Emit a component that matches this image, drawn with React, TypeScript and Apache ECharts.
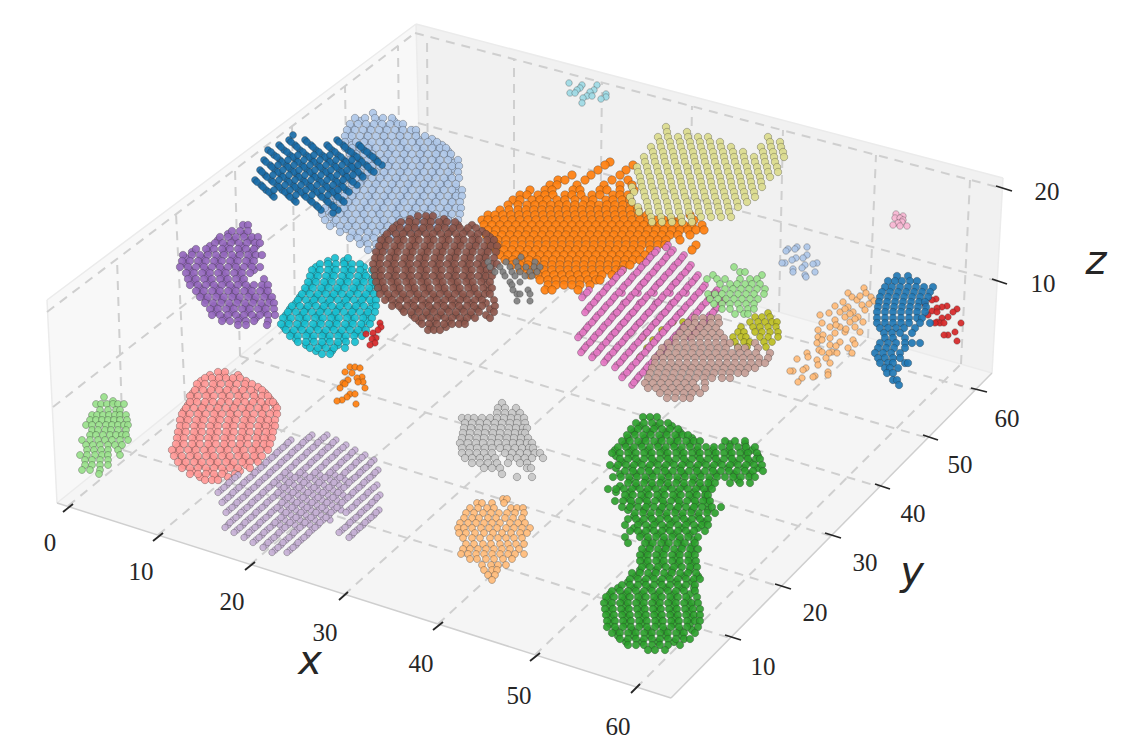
import React, { useEffect, useRef } from "react";
import * as echarts from "echarts";

// Each row is [screenY, screenX, screenX, ...] on the projected plane of the 3D view.
const lightCyan = [[83,569],[85,582,597],[88,580],[90,577,594],[92,590],[93,570,575],[94,606],[96,587,592],[97,606],[98,583],[99,601],[103,582]];
const lightPink = [[214,896],[216,903],[218,895,900],[220,903],[222,902],[223,898],[225,893],[226,900,907]];
const lightBlueSmall = [[247,797,807],[249,788,795],[251,786],[255,807],[258,803,796],[260,792],[263,785,782,817],[264,813],[265,805],[268,802],[269,793],[272,815,793],[275,805],[277,806]];
const lightBlue = [
[113,373],[118,355,365,375,383,392],[124,350,358,366,374,382,390,398,403],[130,347,355,363,371,379,387,395,403,411,416],
[136,345,352,360,368,376,384,392,400,408,416,425],[142,345,356,364,372,380,388,396,404,412,420,428,437],
[148,345,352,360,368,376,384,392,400,408,416,424,432,440,446],[154,350,356,364,372,380,388,396,404,412,420,428,436,444,451],
[160,350,360,368,376,384,392,400,408,416,424,432,440,448,458],[166,352,364,372,380,388,396,404,412,420,428,436,444,452,459],
[172,350,360,368,376,384,392,400,408,416,424,432,440,448,458],[178,345,356,364,372,380,388,396,404,412,420,428,436,444,452,459],
[184,340,352,360,368,376,384,392,400,408,416,424,432,440,448,456],[190,335,348,356,364,372,380,388,396,404,412,420,428,436,444,452,462],
[196,335,344,352,360,368,376,384,392,400,408,416,424,432,440,448,456,462],[202,330,340,348,356,364,372,380,388,396,404,412,420,428,436,444,452,460],
[208,325,336,344,352,360,368,376,384,392,400,408,416,424,432,440,448,456,461],[214,322,332,340,348,356,364,372,380,388,396,404,412,420,428,436,444,452,460],
[220,325,336,344,352,360,368,376,384,392,400,408,416,424,432,440,448,458],[226,330,340,348,356,364,372,380,388,396,404,412,420,428,436,444,455],
[232,340,352,360,368,376,384,392,400,408,416,424,450],[238,350,358,366,374,382,390,398],[244,360,368,376,384],[250,368,376,384]
];
const lightBlueFill = [[121,360,378,394],[127,352,370,386,402],[133,350,368,384,400,416],[139,350,366,384,400,418,432],[145,352,370,386,402,418,434,442],[151,356,372,390,406,422,438,448],[157,354,370,386,404,420,436,450],[163,356,372,390,406,422,438,454],[169,354,372,388,404,420,436,452],[175,350,368,384,400,418,434,450],[181,344,362,378,396,412,428,446],[187,340,358,374,392,408,424,442,456],[193,338,356,372,388,406,422,438,456],[199,336,352,370,386,402,420,436,452],[205,330,348,366,382,398,416,432,450],[211,328,346,362,378,396,412,428,446],[217,330,346,364,380,398,414,430,448],[223,334,352,368,384,402,418,434,450],[229,346,364,380,396,414],[235,354,372,390],[241,364,380]];
const darkBlue = [
[135,293],[140,289,305,337],[145,279,295,311,327,343,359],[150,268,284,300,316,332,348,364],[155,274,290,306,322,338,354,370],
[160,264,280,296,312,328,344,360,376],[165,270,286,302,318,334,350,366,382],[170,260,275,291,307,323,339,355,371],
[175,265,281,297,313,329,345,361],[180,255,271,287,303,319,335,351],[185,261,277,293,309,325,341,357],
[190,266,282,298,314,330,346],[195,272,288,304,320,336],[200,294,310,326,342],[205,316,332],[210,321,338],[213,333],
[142,291,307,339],[147,281,297,313,329,345,361],[152,271,287,303,319,335,351,367],[157,277,293,309,325,341,357,373],[162,266,282,298,314,330,346,362,378],
[167,272,288,304,320,336,352,368],[172,262,278,294,310,326,342,358,374],[177,267,283,299,315,331,347,363],[182,257,273,289,305,321,337,353],[187,263,279,295,311,327,343],[192,269,285,301,317,333,349],[197,274,290,306,322,338],[202,296,312,328,344],[207,318,334],
[155,298,314,330],[160,288,304,320,336,352],[165,278,294,310,326,342,358],[170,283,299,315,331,347],[175,273,289,305,321,337,353],[180,279,295,311,327,343],[185,285,301,317,333],[190,274,290,306,322,338],[195,296,312,328]
];
const purple = [
[225,243,248],[231,232,240,248],[237,220,228,236,244,252,258],[243,215,223,231,239,247,255,260],[249,196,206,214,222,230,238,246,254],
[255,183,192,200,208,216,224,232,240,248,256,262],[261,182,190,198,206,214,222,230,238,246,254],[267,180,188,196,204,212,220,228,236,244,252,260],
[273,186,194,202,210,218,226,234,242,250],[279,188,196,204,212,220,228,236,244,264],[285,190,198,206,214,222,230,238,246,254,262,268],
[291,196,204,212,220,228,236,244,252,260,268],[297,200,208,216,224,232,240,248,256,264,272],[303,205,213,221,229,237,245,253,261,269,274],
[309,210,218,226,234,242,250,258,266,274],[315,212,220,228,236,244,252,260,268,275],[321,222,230,238,246,254,268],[325,238,246,267]
];
const purpleFill = [[234,228,244],[240,218,234,250],[246,210,226,242,256],[252,192,208,224,240,252],[258,186,202,218,234,250],[264,186,202,218,234,250],[270,190,206,222,238,254],[276,192,208,224,240],[282,194,210,226,242],[288,200,216,232,248,264],[294,202,218,234,250,266],[300,206,222,238,254,270],[306,214,230,246,262],[312,216,232,248,264],[318,224,240,256]];
const cyan = [
[258,335,348],[264,320,328,336,344,352,360],[270,312,320,328,336,344,352,360,372],[276,310,318,326,334,342,350,358,366,375],
[282,308,316,324,332,340,348,356,364,372,378],[288,305,313,321,329,337,345,353,361,369,378],[294,302,310,318,326,334,342,350,358,366,374],
[300,298,306,314,322,330,338,346,354,362,370,376],[306,292,300,308,316,324,332,340,348,356,364,376],[312,288,296,304,312,320,328,336,344,352,360,368,375],
[318,283,291,299,307,315,323,331,339,347,355,363,372],[324,281,289,297,305,313,321,329,337,345,353,361,370],[330,286,294,302,310,318,326,334,342,350,358,366],
[336,290,298,306,314,322,330,338,346,354,362],[342,298,306,314,322,330,338,346,355],[348,310,318,326,334,345],[354,322,330]
];
const cyanFill = [[261,328,344],[267,316,332,348,364],[273,316,332,348,364],[279,314,330,346,362,372],[285,310,326,342,358,374],[291,306,322,338,354,370],[297,300,316,332,348,364],[303,296,312,328,344,360,372],[309,290,306,322,338,354,370],[315,286,302,318,334,350,366],[321,288,304,320,336,352,366],[327,284,300,316,332,348,362],[333,292,308,324,340,356],[339,296,312,328,344],[345,306,322,338],[351,316,332]];
const orange = [
[162,610],[165,605,633],[170,598,626],[175,572,591,620],[180,558,565,585,612,628],[185,550,557,577,604,620,632],
[190,530,545,552,573,580,600,607,620,634],[195,520,527,538,545,553,565,572,581,592,600,613,620,628],[200,513,520,532,540,547,557,565,575,585,593,606,613,622,630],
[205,508,518,527,535,543,551,559,567,575,583,591,599,607,615,623,631],[210,500,509,518,526,534,542,550,558,566,574,582,590,598,606,614,622,630,638],
[215,488,495,503,511,519,527,535,543,551,559,567,575,583,591,599,607,615,623,631,639,647,690],[220,482,488,496,504,512,520,528,536,544,552,560,568,576,584,592,600,608,616,624,632,640,648,656,664,672,680,694],
[225,484,492,500,508,516,524,532,540,548,556,564,572,580,588,596,604,612,620,628,636,644,652,660,668,676,684,692,702],
[230,488,496,504,512,520,528,536,544,552,560,568,576,584,592,600,608,616,624,632,640,648,656,664,672,680,688,696,704],
[235,486,494,502,510,518,526,534,542,550,558,566,574,582,590,598,606,614,622,630,638,646,654,662,670,678,690],
[240,490,498,506,514,522,530,538,546,554,562,570,578,586,594,602,610,618,626,634,642,650,658,666,680],
[245,490,498,506,514,522,530,538,546,554,562,570,578,586,594,602,610,618,626,634,642,650,658,665,696],
[250,496,504,512,520,528,536,544,552,560,568,576,584,592,600,608,616,624,632,640,650,692],
[255,500,508,516,524,532,540,548,556,564,572,580,588,596,604,612,620,628,636,645],
[260,505,513,521,529,537,545,553,561,569,577,585,593,601,609,617,625,633,640],
[265,512,520,528,536,544,552,560,568,576,584,592,600,608,616,624,630],
[270,520,528,536,544,552,560,568,576,584,592,600,608,616,622],[275,530,538,546,554,562,570,578,586,594,602,612],
[280,540,548,556,564,572,580,588,596,600],[285,548,556,564,572,580,590],[290,545,552,578]
];
const lightOlive = [
[127,666],[132,667,687],[137,658,668,678,688,698,708,768],[142,660,670,680,690,700,710,720,770,780],
[147,651,661,671,681,691,701,711,721,731,761,771,781],[152,653,663,673,683,693,703,713,723,733,743,763,773,783],
[157,644,654,664,674,684,694,704,714,724,734,744,754,764,774,784],[162,645,655,665,675,685,695,705,715,725,735,745,755,765,775],
[167,637,647,657,667,677,687,697,707,717,727,737,747,757,767,777],[172,638,648,658,668,678,688,698,708,718,728,738,748,758,768,778],
[177,640,650,660,670,680,690,700,710,720,730,740,750,760,770],[182,641,651,661,671,681,691,701,711,721,731,741,751,761],
[187,632,642,652,662,672,682,692,702,712,722,732,742,752,762],[192,634,644,654,664,674,684,694,704,714,724,734,744,754],
[197,630,645,655,665,675,685,695,705,715,725,735,745,755],[202,632,647,657,667,677,687,697,707,717,727,737,747],
[207,638,648,658,668,678,688,698,708,718,728,738],[212,639,649,659,669,679,689,699,709,719,729],
[217,651,661,671,681,691,701,711,721,731],[222,652,662,672,682,692]
];
const olive = [
[313,768],[317,755,762,770],[322,750,758,765,772,777,683,673],[327,741,753,760,768,776],[330,662],[332,738,744,755,762,770,778],
[337,733,741,746,760,768,778,643],[340,653],[342,735,744,750,764,772],[347,738,747,766],[348,647],[357,640]
];
const magenta = [
[283,643,659,675],[293,622,638,654,670,686],[303,624,640,656,672],[313,616,632,648,664,680],[323,623,639,655,671],[333,614,630,646],
[245,668],[250,657,673],[255,652,668,684],[260,648,664,680],[265,643,659,675,691],[270,623,639,655,671,687],
[275,618,634,650,666,682,698],[280,614,630,646,662,678,694],[285,609,625,641,657,673,689,705],[290,589,605,621,637,653,669,685,701,717],
[295,584,600,616,632,648,664,680,696,712],[300,596,612,628,644,660,676,692,708,724],[305,591,607,623,639,655,671,687,703,719],
[310,587,603,619,635,651,667,683,699,715],[315,598,614,630,646,662,678,694,710],[320,594,610,626,642,658,674,690,706],
[325,589,605,621,637,653,669,685,701],[330,585,601,617,633,649,665,681,697],[335,580,596,612,628,644,660,676,692],
[340,592,608,624,640,656,672],[345,587,603,619,635,651,667],[350,583,599,615,631,647,663],[355,594,610,626,642,658],
[360,606,622,638,654],[365,617,633,649],[370,629,645],[375,624,640],[380,636],[385,632],
[247.5,666],[252.5,655,671],[257.5,650,666,682],[262.5,646,662,678],[267.5,641,657,673,689],[272.5,621,637,653,669,685],[277.5,616,632,648,664,680,696],[282.5,612,628,644,660,676,692],[287.5,607,623,639,655,671,687,703],[292.5,587,603,619,635,651,667,683,699,715],[297.5,582,598,614,630,646,662,678,694,710],[302.5,594,610,626,642,658,674,690,706,722],[307.5,589,605,621,637,653,669,685,701,717],[312.5,585,601,617,633,649,665,681,697,713],[317.5,596,612,628,644,660,676,692,708],[322.5,592,608,624,640,656,672,688,704],[327.5,587,603,619,635,651,667,683,699],[332.5,583,599,615,631,647,663,679,695],[337.5,578,594,610,626,642,658,674,690],[342.5,590,606,622,638,654,670],[347.5,585,601,617,633,649,665],[352.5,581,597,613,629,645,661],[357.5,592,608,624,640,656],[362.5,604,620,636,652],[367.5,615,631,647],[372.5,627,643],[377.5,622,638],[382.5,634]
];
const lightGreenMid = [[267,734],[272,740,745],[275,713,762],[279,707,717,725,740,750,757],[284,720,730,737,745,752,760],[289,725,733,741,749,757,765],[294,708,715,722,730,738,746,754,764],[299,710,718,726,734,742,750,758],[304,714,722,730,738,746,754],[309,722,730,740,748,754],[314,735,744,748]];
const lightBrown = [
[318,695,703,711,718],[323,688,695,703,711,719],[328,684,692,700,708,716],[333,680,688,696,704,712,720],[338,676,684,692,700,708,716,724],
[343,668,676,684,692,700,708,716,724,730,755],[348,662,670,678,686,694,702,710,718,726,738,745,758],[353,660,668,676,684,692,700,708,716,724,732,740,748,756,770],
[358,655,663,671,679,687,695,703,711,719,727,735,743,751,759,768],[363,655,663,671,679,687,695,703,711,719,727,735,743,751,759,765],
[368,652,660,668,676,684,692,700,708,716,724,732,740,748,755],[373,650,658,666,674,682,690,698,706,714,722,730,738,745],
[378,648,656,664,672,680,688,696,704,712,722,730],[383,645,653,661,669,677,685,693,705],[388,648,656,664,672,680,688,696,705],[393,660,668,676,684,692,700],[398,667,675,683,690]
];
const brown = [
[216,418,426,433],[222,401,409,416,424,431,439,447,455],[228,393,400,408,415,423,430,438,445,453,460,468,476],
[234,387,396,403,411,418,426,433,441,448,456,463,471,478,486],[240,381,389,397,404,412,419,427,434,442,449,457,464,472,479,487,494],
[246,379,386,394,401,409,416,424,431,439,446,454,461,469,476,484,491,497],[252,376,383,391,398,406,413,421,428,436,443,451,458,466,473,481,488,496],
[258,375,381,389,396,404,411,419,426,434,441,449,456,464,471,479,486,494],[264,373,380,387,395,402,410,417,425,432,440,447,455,462,470,477,485,492,497],
[270,374,382,390,397,405,412,420,427,435,442,450,457,465,472,480,487,492],[276,375,381,388,396,403,411,418,426,433,441,448,456,463,471,478,486,492],
[282,376,383,391,398,406,413,421,428,436,443,451,458,466,473,481,490],[288,378,385,393,400,408,415,423,430,438,445,453,460,468,475,483,492],
[294,380,388,395,403,410,418,425,433,440,448,455,463,470,478,485,490],[300,385,392,400,407,415,422,430,437,445,452,460,467,475,482,494],
[306,392,399,407,414,422,429,437,444,452,459,467,474,482,495],[312,404,411,419,426,434,441,449,456,464,471,479,494],
[318,415,422,430,437,445,452,460,467,475,490],[324,422,429,437,444,452,459,465],[330,428,434,440]
];
const brownFill = [[219,410,428,444],[225,397,412,428,442,458,472],[231,391,406,421,437,451,466,482],[237,385,401,415,430,446,459,475,490],[243,384,399,414,430,445,460,476,492],[249,381,396,411,427,442,457,472,488],[255,379,394,410,424,440,455,470,485],[261,378,393,407,423,438,452,468,483],[267,378,392,408,422,437,453,467,482],[273,379,394,408,424,438,454,469,484],[279,379,393,409,423,439,453,468,484],[285,381,396,411,426,441,456,471,487],[291,384,398,414,428,444,458,474,488],[297,389,403,418,434,449,463,479],[303,396,411,426,441,455,471,486],[309,402,417,432,447,462,477,490],[315,412,427,441,456,471,486],[321,419,434,449,464],[327,431,446]];
const gray = [[257,521],[262,488,506,516,535],[267,490,500,510,518,526,534,540],[272,495,503,512,520,530,537],[276,505,515,525,532],[282,510,520],[285,512],[290,513,528],[294,517,520,530],[301,517,530]];
const redNear = [[323,380],[327,381],[330,378],[333,373],[334,366],[338,376],[339,372],[343,375],[345,370]];
const orangeSmall = [[367,350,355],[368,360],[372,345],[373,352],[377,362],[378,357],[380,348],[382,363,358],[383,343],[384,345],[388,340,365],[394,350,355],[397,347],[400,342],[401,337],[404,356]];
const lightGreenLeft = [
[397,104],[401,113],[404,96,101,107,113,118,124],[410,100,108,116,120],[415,92,97,103,109,115,120,126],[420,90,96,102,108,114,120,127],
[425,86,92,99,106,112,118,124,128],[430,92,98,105,111,118,126],[435,90,96,103,110,116,122,126],[440,82,90,98,105,112,120,128],[445,86,93,100,108,115,122],
[450,87,94,101,108,118],[455,80,87,95,102,108,120],[460,85,92,100,108],[465,85,92,100,108],[470,82,90,100],[474,99]
];
const pink = [
[372,218,225],[378,205,212,219,226,233,240],[384,197,205,213,221,229,237,245,252],[390,195,203,211,219,227,235,243,251,262],
[396,190,198,206,214,222,230,238,246,254,262,268],[402,190,197,205,213,221,229,237,245,253,261,269,273],[408,186,194,202,210,218,226,234,242,250,258,266,277],
[414,182,190,198,206,214,222,230,238,246,254,262,270,277],[420,180,188,196,204,212,220,228,236,244,252,260,268,275],
[426,180,186,194,202,210,218,226,234,242,250,258,266,275],[432,178,186,194,202,210,218,226,234,242,250,258,266,273],
[438,177,184,192,200,208,216,224,232,240,248,256,264,272],[444,176,184,192,200,208,216,224,232,240,248,256,264,270],
[450,172,180,188,196,204,212,220,228,236,244,252,260,268],[456,174,182,190,198,206,214,222,230,238,246,254,262],
[462,178,186,194,202,210,218,226,234,242,250,258],[468,182,190,198,206,214,222,230,238,250],[474,190,198,206,214,222,235],[480,205,212,218]
];
const pinkFill = [[375,210,224,238],[381,201,216,231,246],[387,199,214,230,245,258],[393,193,208,224,239,254,265],[399,194,210,225,240,256,270],[405,188,204,219,235,250,265,275],[411,184,200,216,231,246,262,274],[417,186,201,217,232,248,263],[423,184,199,215,230,246,262,272],[429,182,198,214,229,244,260,270],[435,180,196,212,228,243,258,268],[441,180,195,211,226,242,258,267],[447,178,194,210,225,240,256,266],[453,178,193,209,224,240,255],[459,182,197,213,228,244,256],[465,184,200,216,232,246],[471,192,208,224,240],[477,200,215,228]];
const lilac = [
[475,290,305,320,335],[480,285,300,315,330,345],[485,279,294,309,324,339],[490,288,303,318,333],[495,283,298,313,328,343],[500,292,307,322,337],[505,287,302,317,332],[510,281,296,311,326,341],[515,291,306,321],[520,285,300,315,330],[525,280,295,310],
[435,312,327],[440,291,306,321,336],[445,286,301,316,331,346],[450,280,295,310,325,340,355],[455,275,290,305,320,335,350,365],
[460,269,284,299,314,329,344,359,374],[465,264,279,294,309,324,339,354,369],[470,258,273,288,303,318,333,348,363,378],
[475,238,253,268,283,298,313,328,343,358,373],[480,232,247,262,277,292,307,322,337,352,367],[485,227,242,257,272,287,302,317,332,347,362,377],
[490,221,236,251,266,281,296,311,326,341,356,371],[495,231,246,261,276,291,306,321,336,351,366,380],[500,225,240,255,270,285,300,315,330,345,360,375],
[505,235,250,265,280,295,310,325,340,355,370],[510,229,244,259,274,289,304,319,334,349,364,379],[515,239,254,269,284,299,314,329,359,374],
[520,233,248,263,278,293,308,323,353,368],[525,228,243,258,273,288,303,318,348,363],[530,237,252,267,282,297,312,342,357],
[535,247,262,277,292,307,352],[540,256,271,286,301],[545,266,281,296],[550,275,290],
[437.5,309,324],[442.5,288,303,318,333],[447.5,283,298,313,328,343],[452.5,277,292,307,322,337,352],[457.5,272,287,302,317,332,347,362],[462.5,266,281,296,311,326,341,356,371],[467.5,261,276,291,306,321,336,351,366],[472.5,255,270,285,300,315,330,345,360,375],[477.5,235,250,265,280,295,310,325,340,355,370],[482.5,229,244,259,274,289,304,319,334,349,364],[487.5,224,239,254,269,284,299,314,329,344,359,374],[492.5,218,233,248,263,278,293,308,323,338,353,368],[497.5,228,243,258,273,288,303,318,333,348,363,377],[502.5,222,237,252,267,282,297,312,327,342,357,372],[507.5,232,247,262,277,292,307,322,337,352,367],[512.5,226,241,256,271,286,301,316,331,346,361,376],[517.5,236,251,266,281,296,311,326,356,371],[522.5,230,245,260,275,290,305,320,350,365],[527.5,225,240,255,270,285,300,315,345,360],[532.5,234,249,264,279,294,309,339,354],[537.5,244,259,274,289,304,349],[542.5,253,268,283,298],[547.5,263,278,293],[552.5,272,287]
];
const lightGray = [
[403,502],[408,498,505,516],[413,497,505,512,520],[418,462,468,474,482,490,497,504,511,518,524],[423,465,472,480,487,495,502,510,517,525],
[428,464,471,479,486,494,501,509,516,523,527],[433,463,470,478,485,493,500,508,515,522,525],[438,462,469,477,484,492,499,507,514,521,528],
[443,460,468,476,483,491,498,506,513,520,527,532],[448,462,470,477,485,492,500,507,515,522,529,533],[453,462,469,477,484,492,505,512,520,527,535,540],
[458,465,472,480,487,495,510,517,525,532,543],[463,472,480,488,497,508,520,527],[468,484,492,500,527,531],[474,502],[477,517,532]
];
const lightOrangeMid = [
[499,503,507],[503,477,482,492,504],[508,470,478,487,494,511,517,523],[513,466,474,483,491,499,507,515,524],[518,464,472,479,488,496,505,513,522],
[523,460,468,476,484,492,500,510,518,525],[528,458,464,472,481,489,497,506,514,522,530],[533,459,466,475,484,493,502,511,520,527],
[538,463,472,480,490,498,506,514,522],[544,466,474,483,491,500,508,516,524],[549,463,470,478,486,494,502,510,519],[554,461,468,476,484,492,500,508,515,524],
[559,470,477,486,494,503,512],[565,482,491,498,506],[570,484,492,497],[575,488,495],[580,492]
];
const green = [
[417,643,650,657],[423,636,644,652,660,668],[429,631,638,646,654,662,670,678],[435,627,635,643,651,659,667,675,683,688],
[441,622,630,638,646,654,662,670,678,686,694,700,725,735,745],[447,618,626,634,642,650,658,666,674,682,690,698,706,714,722,730,738,746,755],
[453,612,620,628,636,644,652,660,668,676,684,692,700,708,716,724,732,740,748,757],[459,620,628,636,644,652,660,668,676,684,692,700,708,716,724,732,740,748,756,760],
[465,610,618,626,634,642,650,658,666,674,682,690,698,706,714,722,730,738,746,754,762],[471,625,633,641,649,657,665,673,681,689,697,705,713,721,729,737,745,753,763],
[477,613,621,629,637,645,653,661,669,677,685,693,701,709,717,725,733,741,749,755],[483,628,636,644,652,660,668,676,684,692,700,708,715,730,740,750],
[489,608,616,624,632,640,648,656,664,672,680,688,696,704,712],[495,625,633,641,649,657,665,673,681,689,697,705,708],
[501,615,623,631,639,647,655,663,671,679,687,695,703,710],[507,622,630,638,646,654,662,670,678,686,694,702,712,721],[513,635,643,651,659,667,675,683,691,699,707,715],
[519,628,636,644,652,660,668,676,684,692,700,708],[525,625,638,646,654,662,670,678,686,694,702,708],[531,630,638,646,654,662,670,678,686,694,705],
[537,625,640,648,656,664,672,680,688,698],[543,628,645,653,661,669,677,685,695],[549,642,650,658,666,674,682,690,698],[555,640,648,656,664,672,680,688,695],
[561,640,648,656,664,672,680,688,696],[567,642,650,658,666,674,682,690,697],[573,632,640,648,656,664,672,680,688,696],[579,630,638,646,654,662,670,678,686,694,700],
[585,622,630,638,646,654,662,670,678,686,695],[591,612,620,628,636,644,652,660,668,676,684,695],[597,606,614,622,630,638,646,654,662,670,678,686,697],
[603,604,612,620,628,636,644,652,660,668,676,684,692,698],[609,605,613,621,629,637,645,653,661,669,677,685,693,700],[615,606,614,622,630,638,646,654,662,670,678,686,694,700],
[621,607,615,623,631,639,647,655,663,671,679,687,695,700],[627,607,615,623,631,639,647,655,663,671,679,687,698],[633,612,620,628,636,644,652,660,668,676,684,695],
[639,620,628,636,644,652,660,668,676,684,690],[645,628,636,644,652,660,668,680],[650,648,655,665]
];
const greenFill = [[426,640,656,672],[432,634,650,666,680],[438,628,645,661,677,692],[444,625,641,658,674,690,730,745],[450,615,631,648,664,680,697,713,729,745,752],[456,616,632,650,666,682,698,714,730,746,758],[462,622,638,654,670,686,702,718,734,750],[468,616,632,648,664,680,696,712,728,744,758],[474,620,636,652,668,684,700,716,734,750],[480,630,646,662,678,694,710,738],[486,620,636,652,668,684,700,710],[492,616,630,646,662,678,694,706],[498,628,644,660,676,692,706],[504,632,648,664,680,696,708],[510,628,644,660,676,692,708],[516,634,650,666,682,698],[522,640,656,672,688,704],[528,634,650,666,682,698],[534,642,658,674,690],[540,648,664,680,694],[546,650,666,682,692],[552,646,662,678,692],[558,644,660,676,690],[564,646,662,678,692],[570,640,656,672,690],[576,636,652,668,684,698],[582,628,644,660,676,692],[588,618,634,650,666,682,694],[594,610,626,642,658,674,690],[600,608,624,640,656,672,688],[606,610,626,642,658,674,690],[612,609,625,641,657,673,689],[618,611,627,643,659,675,691],[624,610,626,642,658,674,690],[630,616,632,648,664,680,692],[636,618,634,650,666,682],[642,626,642,658,674]];
const lightOrangeRight = [
[288,864],[293,848,866],[297,852,871],[300,857],[301,874],[302,843],[305,862],[306,835],[307,848],[310,865],[312,840,853],[313,829],[315,820],[317,845,858],[320,835],[322,850,863],[323,822],[327,830,840,855],[330,818],[332,845,860],[333,835],[337,818],[338,830],[340,853],[342,840],[343,817],[344,855],[345,830],[348,848],[350,819],[352,822,832],[353,807,837,829,852],[357,808],[359,797],[360,817],[363,830],[365,818],[368,806],[370,803],[371,793,790],[372,828],[375,828],[376,815],[377,813],[378,802],[382,798],
[296,860],[304,869],[309,845],[314,850],[319,855],[325,836],[329,846],[335,823],[340,822],[346,836],[358,826]
];
const blueRight = [
[276,897,908],[281,888,895,902,910,917],[287,885,892,900,908,916,924,933],[292,882,890,898,906,914,922,930],[297,880,888,896,904,912,920,928],
[302,879,887,895,903,911,919,925],[307,878,886,894,902,910,918,926],[312,877,885,893,901,909,917,925],[318,877,885,893,901,909,917,922],
[323,877,885,893,901,909,920,930],[328,880,888,896,904,915],[333,884,892,900,912],[338,885,893,905],[343,880,888,896,905,912,920],
[348,878,886,894,905],[353,875,883,891,900],[358,878,885,893,900],[363,880,888,893,905,908],[368,885,890,898],[373,887,893],[380,893,897],[385,899]
];
const redRight = [[299,936],[300,932],[304,925],[306,947],[307,942],[308,937],[309,957],[311,932],[312,937,953],[315,928],[317,948],[318,942],[322,937],[323,940,944,935,961],[332,955],[335,948,944],[341,957]];

const clusters = [
  { name: "light cyan", rows: lightCyan, color: "#9edae5", size: 6.5 },
  { name: "light pink", rows: lightPink, color: "#f7b6d2", size: 6.5 },
  { name: "light blue small", rows: lightBlueSmall, color: "#aec7e8", size: 6.5 },
  { name: "light blue", rows: [...lightBlueFill, ...lightBlue], color: "#aec7e8", size: 7.5 },
  { name: "blue", rows: darkBlue, color: "#1a6ca8", size: 7 },
  { name: "purple", rows: [...purpleFill, ...purple], color: "#9467bd", size: 7.5 },
  { name: "cyan", rows: [...cyanFill, ...cyan], color: "#17becf", size: 7.5 },
  { name: "orange", rows: orange, color: "#ff7f0e", size: 8.5 },
  { name: "light olive", rows: lightOlive, color: "#dbdb8d", size: 7.5 },
  { name: "olive", rows: olive, color: "#bcbd22", size: 7 },
  { name: "magenta", rows: magenta, color: "#e377c2", size: 7 },
  { name: "light green mid", rows: lightGreenMid, color: "#98df8a", size: 7 },
  { name: "light brown", rows: lightBrown, color: "#c49c94", size: 7.5 },
  { name: "brown", rows: [...brownFill, ...brown], color: "#8c564b", size: 7.5 },
  { name: "gray", rows: gray, color: "#7f7f7f", size: 6.5 },
  { name: "red near", rows: redNear, color: "#d62728", size: 6.5 },
  { name: "orange small", rows: orangeSmall, color: "#ff7f0e", size: 6.5 },
  { name: "light green left", rows: lightGreenLeft, color: "#98df8a", size: 7 },
  { name: "pink", rows: [...pinkFill, ...pink], color: "#ff9896", size: 7.5 },
  { name: "lilac", rows: lilac, color: "#c5b0d5", size: 6.5 },
  { name: "light gray", rows: lightGray, color: "#c7c7c7", size: 7.5 },
  { name: "light orange", rows: lightOrangeMid, color: "#ffbb78", size: 7 },
  { name: "green", rows: [...greenFill, ...green], color: "#2ca02c", size: 7.5 },
  { name: "light orange right", rows: lightOrangeRight, color: "#ffbb78", size: 6.5 },
  { name: "red right", rows: redRight, color: "#d62728", size: 6.5 },
  { name: "blue right", rows: blueRight, color: "#1f77b4", size: 7.5 },
];

// Box of the 3D view
const panes = [
  { pts: [[57, 503], [421, 210], [992, 373], [671, 698]], fill: "#f5f5f5" },
  { pts: [[47, 300], [416, 24], [421, 210], [57, 503]], fill: "#f8f8f8" },
  { pts: [[416, 24], [1003, 178], [992, 373], [421, 210]], fill: "#f1f1f1" },
];
const paneEdges = [[47,300,416,24],[416,24,1003,178],[1003,178,992,373],[47,300,57,503],[416,24,421,210],[421,210,57,503],[421,210,992,373]];
const frontEdges = [[57,503,671,698],[671,698,992,373]];
const gridLines = [
  [68,506,428,212],[158,535,514,237],[250,565,600,261],[344,595,689,286],[438,624,779,312],[535,655,868,338],[636,688,961,364],
  [428,212,427,36],[514,237,514,59],[600,261,602,82],[689,286,692,106],[779,312,783,130],[868,338,876,155],[961,364,970,180],
  [123,450,730,638],[185,400,781,587],[240,356,831,536],[295,311,880,487],[348,269,928,438],[400,227,975,390],
  [123,450,117,258],[185,400,176,213],[240,356,235,169],[295,311,292,126],[348,269,345,86],[400,227,398,46],
  [47,312,415,33],[53,407,418,123],[415,33,1001,188],[418,123,997,281],
];
const tickLines = [
  [63,512,73,504],[153,541,163,533],[245,570,255,562],[339,600,348,592],[433,630,443,622],[530,661,540,653],[631,693,640,684],
  [725,635,741,640],[775,584,791,589],[825,533,841,538],[875,484,890,489],[923,435,938,440],[971,388,987,392],
  [996,186,1012,191],[992,279,1007,284],
];
const xTickLabels = [["0",50,542],["10",141,571],["20",232,601],["30",325,632],["40",421,663],["50",519,695],["60",618,726]];
const yTickLabels = [["10",763,666],["20",815,612],["30",865,562],["40",913,513],["50",960,464],["60",1007,418]];
const zTickLabels = [["20",1047,191],["10",1043,283]];
const axisNames = [["x",310,660],["y",912,571],["z",1096,260]];

function rowsToPoints(rows: number[][]) {
  const out: number[][] = [];
  for (const [y, ...xs] of rows) for (const x of xs) out.push([x, y]);
  return out;
}

function lineSeries(name: string, lines: number[][], stroke: string, width: number, dash?: number[]) {
  return {
    name,
    type: "custom",
    coordinateSystem: "cartesian2d",
    silent: true,
    clip: false,
    data: lines,
    encode: { x: [0, 2], y: [1, 3] },
    renderItem: (_p: any, api: any) => {
      const a = api.coord([api.value(0), api.value(1)]);
      const b = api.coord([api.value(2), api.value(3)]);
      return {
        type: "line",
        shape: { x1: a[0], y1: a[1], x2: b[0], y2: b[1] },
        style: { stroke, lineWidth: width, lineDash: dash, fill: null },
      };
    },
  };
}

export default function App() {
  const ref = useRef<HTMLDivElement>(null);
  useEffect(() => {
    if (!ref.current) return;
    const chart = echarts.init(ref.current, undefined, { renderer: "svg" });
    const tickTexts = [...xTickLabels, ...yTickLabels, ...zTickLabels].map(([t, x, y]) => ({
      type: "text", x, y, z: 50,
      style: { text: t, fill: "#262626", fontFamily: "Liberation Serif", fontSize: 25, align: "center", verticalAlign: "middle" },
    }));
    const nameTexts = axisNames.map(([t, x, y]) => ({
      type: "text", x, y, z: 50,
      style: { text: t, fill: "#262626", fontFamily: "DejaVu Sans", fontStyle: "italic", fontSize: 40, lineHeight: 26, align: "center", verticalAlign: "middle" },
    }));
    chart.setOption({
      animation: false,
      backgroundColor: "#ffffff",
      grid: { left: 0, right: 0, top: 0, bottom: 0 },
      xAxis: { type: "value", min: 0, max: 1123, show: false },
      yAxis: { type: "value", min: 0, max: 748, inverse: true, show: false },
      graphic: [...tickTexts, ...nameTexts],
      series: [
        {
          name: "panes", type: "custom", coordinateSystem: "cartesian2d", silent: true, clip: false,
          data: panes.map((_, i) => [i, 0]),
          renderItem: (p: any, api: any) => {
            const pane = panes[p.dataIndex];
            return { type: "polygon", shape: { points: pane.pts.map((q) => api.coord(q)) }, style: { fill: pane.fill } };
          },
        },
        lineSeries("pane edges", paneEdges, "#ebebeb", 1.5),
        lineSeries("front edges", frontEdges, "#cfcfcf", 1.5),
        lineSeries("grid", gridLines, "#cfcfcf", 2, [9, 7]),
        lineSeries("ticks", tickLines, "#262626", 1.8),
        ...clusters.map((c) => ({
          name: c.name,
          type: "scatter",
          symbol: "circle",
          symbolSize: c.size,
          silent: true,
          clip: false,
          data: rowsToPoints(c.rows),
          itemStyle: { color: c.color, opacity: 0.92, borderColor: "rgba(40,40,40,0.55)", borderWidth: 0.6 },
        })),
      ],
    });
    return () => chart.dispose();
  }, []);
  return <div ref={ref} style={{ position: "absolute", left: 0, top: 0, width: 1123, height: 748 }} />;
}
